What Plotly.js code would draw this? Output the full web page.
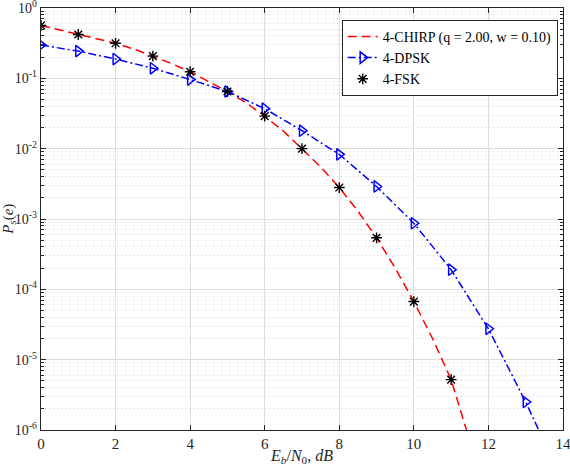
<!DOCTYPE html>
<html>
<head>
<meta charset="utf-8">
<script src="https://cdn.plot.ly/plotly-3.0.1.min.js"></script>
<style>html,body{margin:0;padding:0;background:#fff;}#plot{width:570px;height:466px;}</style>
</head>
<body>
<div id="plot"></div>
<script>
// Red theoretical curve (4-CHIRP)
const chirpX = [0,0.5,1,1.5,2,2.5,3,3.5,4,4.5,5,5.5,6,6.5,7,7.5,8,8.5,9,9.5,10,10.5,11,11.5];
const chirpY = [0.565,0.49,0.42,0.366,0.315,0.26,0.207,0.162,0.124,0.091,0.065,0.045,0.029,0.0178,0.0100,0.0055,0.0028,0.00129,0.00054,0.0002,0.000067,0.00002,0.0000052,0.0000007];
// 4-DPSK
const dpskX = [0,1,2,3,4,5,6,7,8,9,10,11,12,13,14];
const dpskY = [0.297,0.244,0.188,0.139,0.096,0.065,0.037,0.018,0.0083,0.0029,0.00087,0.00019,0.0000275,0.0000025,0.00000018];
// 4-FSK
const fskX = [0,1,2,3,4,5,6,7,8,9,10,11];
const fskY = [0.565,0.42,0.315,0.207,0.124,0.065,0.029,0.0100,0.0028,0.00054,0.000067,0.0000052];

const legendLabels = ['4-CHIRP (q = 2.00, w = 0.10)','4-DPSK','4-FSK'];
const yTickVals = [1e-6,1e-5,1e-4,1e-3,1e-2,1e-1,1];
const yTickText = ['10<sup>-6</sup>','10<sup>-5</sup>','10<sup>-4</sup>','10<sup>-3</sup>','10<sup>-2</sup>','10<sup>-1</sup>','10<sup>0</sup>'];
const xTickVals = [0,2,4,6,8,10,12,14];

const minorVals = [];
for (let e = -6; e < 0; e++) for (let m = 2; m <= 9; m++) minorVals.push(m * Math.pow(10, e));

const FONT = 'Liberation Serif';

const traces = [
  {x: chirpX, y: chirpY, name: legendLabels[0], mode: 'lines',
   line: {color: '#ff0000', width: 1.5, dash: '9px,5px'}},
  {x: dpskX, y: dpskY, name: legendLabels[1], mode: 'lines+markers',
   line: {color: '#0000ff', width: 1.5, dash: '8px,3px,2px,3px'},
   marker: {symbol: 'triangle-right-open', size: 10, color: '#0000ff', line: {width: 1.5, color: '#0000ff'}}},
  {x: fskX, y: fskY, name: legendLabels[2], mode: 'markers',
   marker: {symbol: 'asterisk-open', size: 9, color: '#000', line: {width: 1.4, color: '#000'}}}
];

const layout = {
  width: 570, height: 466,
  margin: {l: 41, r: 6.5, t: 8, b: 35.5},
  paper_bgcolor: '#fff', plot_bgcolor: '#fff',
  font: {family: FONT, size: 14, color: '#262626'},
  showlegend: true,
  legend: {x: 0.576, y: 0.972, xanchor: 'left', yanchor: 'top',
    bgcolor: '#fff', bordercolor: '#262626', borderwidth: 1,
    font: {family: FONT, size: 14, color: '#000'}, tracegroupgap: 0},
  xaxis: {range: [0, 14], tickvals: xTickVals, ticks: 'inside', ticklen: 5,
    tickcolor: '#262626', showline: true, linecolor: '#262626', linewidth: 1.2, mirror: 'ticks',
    showgrid: true, gridcolor: '#dedede', gridwidth: 1, zeroline: false,
    ticklabeloverflow: 'allow',
    tickfont: {family: FONT, size: 15, color: '#262626'},
    title: {text: '<i>E<sub>b</sub></i>/<i>N</i><sub>0</sub>, <i>dB</i>', standoff: 4,
      font: {family: FONT, size: 16, color: '#262626'}}},
  yaxis: {type: 'log', range: [-6, 0], tickvals: yTickVals, ticktext: yTickText,
    ticks: 'inside', ticklen: 5, tickcolor: '#262626',
    showline: true, linecolor: '#262626', linewidth: 1.2, mirror: 'ticks',
    showgrid: true, gridcolor: '#dedede', gridwidth: 1, zeroline: false,
    ticklabeloverflow: 'allow',
    tickfont: {family: FONT, size: 14, color: '#262626'},
    minor: {tickvals: minorVals, ticks: 'inside', ticklen: 3, tickcolor: '#262626',
      showgrid: true, gridcolor: '#d4d4d4', griddash: '1px,3px', gridwidth: 1}},
  annotations: [{
    xref: 'paper', yref: 'paper', x: -0.062, y: 0.5, xanchor: 'center', yanchor: 'middle',
    textangle: -90, showarrow: false,
    text: '<i>P<sub>s</sub></i>(<i>e</i>)',
    font: {family: FONT, size: 15, color: '#262626'}
  }]
};

Plotly.newPlot('plot', traces, layout, {displayModeBar: false, staticPlot: true});
</script>
</body>
</html>
